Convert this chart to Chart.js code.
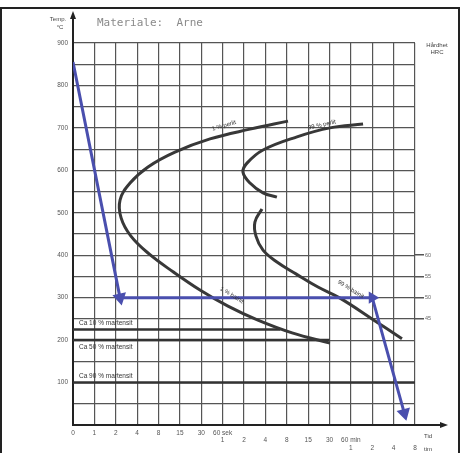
<!DOCTYPE html>
<html>
<head>
<meta charset="utf-8">
<script src="https://cdn.jsdelivr.net/npm/chart.js@4"></script>
<style>
  body { margin: 0; background: #fff; }
  #wrap { position: relative; width: 460px; height: 453px; overflow: hidden; }
  #frame { position: absolute; left: 0; top: 7px; width: 456px; height: 450px; border: 2px solid #222; pointer-events: none; }
</style>
</head>
<body>
<div id="wrap">
  <canvas id="ttt" width="460" height="453"></canvas>
  <div id="frame"></div>
</div>
<script>
// time axis: one grid column per step (log-like), labels per row
const secLabels = ['0', '1', '2', '4', '8', '15', '30', '60 sek'];
const minLabels = ['1', '2', '4', '8', '15', '30', '60 min'];   // from column 7
const hourLabels = ['1', '2', '4', '8'];                        // from column 13

// hardness ticks on the right side
const hardTemps = [400, 350, 300, 250];
const hardValues = ['60', '55', '50', '45'];

// cooling curve (blue)
const coolX = [0, 2.2, 14.0, 15.5];
const coolT = [855, 300, 300, 28];

// 1 % curve (pearlite nose + bainite branch)
const start1X = [10.06, 8.28, 6.41, 4.77, 3.51, 2.67, 2.2, 2.25, 2.71, 3.56, 4.68, 5.94, 7.25, 8.65, 10.25, 12.02];
const start1T = [716, 697, 674, 643, 608, 570, 530, 488, 445, 403, 361, 318, 280, 247, 217, 193];

// 99 % pearlite
const perl99X = [13.57, 12.02, 10.48, 8.89, 8.14, 7.95, 8.28, 8.89, 9.54];
const perl99T = [709, 700, 679, 648, 617, 596, 570, 547, 537];

// 99 % bainite
const bain99X = [8.84, 8.51, 8.56, 8.89, 9.54, 10.43, 11.46, 12.49, 13.99, 15.39];
const bain99T = [509, 478, 445, 412, 384, 356, 325, 299, 250, 203];

// martensite lines
const martTemps = [225, 200, 100];
const martEnds = [9.7, 12.0, 16];
const martNames = ['Ca 10 % martensit', 'Ca 50 % martensit', 'Ca 90 % martensit'];

function pts(xs, ys) {
  return xs.map((x, i) => ({ x: x, y: ys[i] }));
}

const curveStyle = { borderColor: '#383838', borderWidth: 3, pointRadius: 0, tension: 0.4, fill: false };

const datasets = [
  {
    data: pts(coolX, coolT),
    borderColor: '#4a4fae',
    backgroundColor: '#4a4fae',
    borderWidth: 3,
    tension: 0,
    pointStyle: 'triangle',
    pointRadius: [0, 5, 4, 5],
    pointRotation: [0, 168, 90, 165],
    order: 0
  },
  Object.assign({ data: pts(start1X, start1T) }, curveStyle),
  Object.assign({ data: pts(perl99X, perl99T) }, curveStyle),
  Object.assign({ data: pts(bain99X, bain99T) }, curveStyle)
];
martTemps.forEach((t, i) => {
  datasets.push({
    data: [{ x: 0, y: t }, { x: martEnds[i], y: t }],
    borderColor: '#333', borderWidth: 2.5, pointRadius: 0, tension: 0
  });
});

const tinyFont = { family: 'Liberation Sans', size: 6.5 };

const textPlugin = {
  id: 'texts',
  afterDraw(chart) {
    const ctx = chart.ctx;
    const xs = chart.scales.x, ys = chart.scales.y;
    const a = chart.chartArea;
    ctx.save();
    ctx.strokeStyle = '#222';
    ctx.fillStyle = '#222';
    ctx.lineWidth = 2;
    // axis arrows
    ctx.beginPath();
    ctx.moveTo(a.left, a.top); ctx.lineTo(a.left, 14);
    ctx.moveTo(a.right, a.bottom); ctx.lineTo(444, a.bottom);
    ctx.stroke();
    ctx.beginPath();
    ctx.moveTo(a.left, 11); ctx.lineTo(a.left - 3, 19); ctx.lineTo(a.left + 3, 19); ctx.closePath();
    ctx.moveTo(448, a.bottom); ctx.lineTo(440, a.bottom - 3); ctx.lineTo(440, a.bottom + 3); ctx.closePath();
    ctx.fill();

    // title
    ctx.fillStyle = '#8a8a8a';
    ctx.font = '11px "DejaVu Sans Mono"';
    ctx.textBaseline = 'middle';
    ctx.fillText('Materiale:  Arne', 97, 23);

    ctx.fillStyle = '#444';
    ctx.font = '6px "Liberation Sans"';
    ctx.textAlign = 'center';
    ctx.fillText('Temp.', 58, 19);
    ctx.fillText('°C', 60, 27);
    ctx.fillText('Hårdhet', 437, 45);
    ctx.fillText('HRC', 437, 52);
    ctx.textAlign = 'left';
    ctx.fillText('Tid', 424, 436);
    ctx.fillText('tim', 424, 449);

    // martensite labels
    ctx.font = '6.5px "Liberation Sans"';
    ctx.fillStyle = '#333';
    const offs = [-6, 7, -6];
    martTemps.forEach((t, i) => {
      ctx.fillText(martNames[i], 79, ys.getPixelForValue(t) + offs[i]);
    });

    // curve labels
    const labs = [
      ['1 % perlit', 6.5, 697, -0.28],
      ['99 % perlit', 11.0, 700, -0.22],
      ['1 % bainit', 6.9, 322, 0.55],
      ['99 % bainit', 12.4, 338, 0.55]
    ];
    ctx.font = '6px "Liberation Sans"';
    labs.forEach(l => {
      ctx.save();
      ctx.translate(xs.getPixelForValue(l[1]), ys.getPixelForValue(l[2]));
      ctx.rotate(l[3]);
      ctx.fillText(l[0], 0, 0);
      ctx.restore();
    });
    ctx.restore();
  }
};

new Chart(document.getElementById('ttt'), {
  type: 'line',
  data: { datasets: datasets },
  options: {
    responsive: false,
    animation: false,
    layout: { padding: { top: 43, left: 0, right: 0, bottom: 0 } },
    plugins: { legend: { display: false }, tooltip: { enabled: false } },
    scales: {
      x: {
        type: 'linear',
        min: 0, max: 16,
        afterFit: s => { s.height = 28; },
        border: { color: '#222', width: 2 },
        grid: { color: '#555', lineWidth: 1.2, drawTicks: false },
        ticks: {
          stepSize: 1,
          autoSkip: false,
          maxRotation: 0,
          padding: 4,
          color: '#555',
          font: tinyFont,
          callback: v => {
            const lines = [secLabels[v] || '', minLabels[v - 7] || '', hourLabels[v - 13] || ''];
            while (lines.length && lines[lines.length - 1] === '') lines.pop();
            return lines;
          }
        }
      },
      y: {
        min: 0, max: 900,
        afterFit: s => { s.width = 73; },
        border: { color: '#222', width: 2 },
        grid: { color: '#555', lineWidth: 1.2, drawTicks: false },
        ticks: {
          stepSize: 50,
          padding: 5,
          color: '#555',
          font: tinyFont,
          callback: v => (v % 100 === 0 && v > 0) ? v : ''
        }
      },
      y2: {
        position: 'right',
        min: 0, max: 900,
        afterFit: s => { s.width = 45; },
        border: { display: false },
        grid: {
          drawOnChartArea: false,
          tickLength: 9,
          lineWidth: 1.5,
          color: c => hardTemps.includes(c.tick.value) ? '#555' : 'rgba(0,0,0,0)'
        },
        ticks: {
          stepSize: 50,
          padding: 1,
          color: '#666',
          font: { family: 'Liberation Sans', size: 5.5 },
          callback: v => {
            const i = hardTemps.indexOf(v);
            return i >= 0 ? hardValues[i] : '';
          }
        }
      }
    }
  },
  plugins: [textPlugin]
});
</script>
</body>
</html>
